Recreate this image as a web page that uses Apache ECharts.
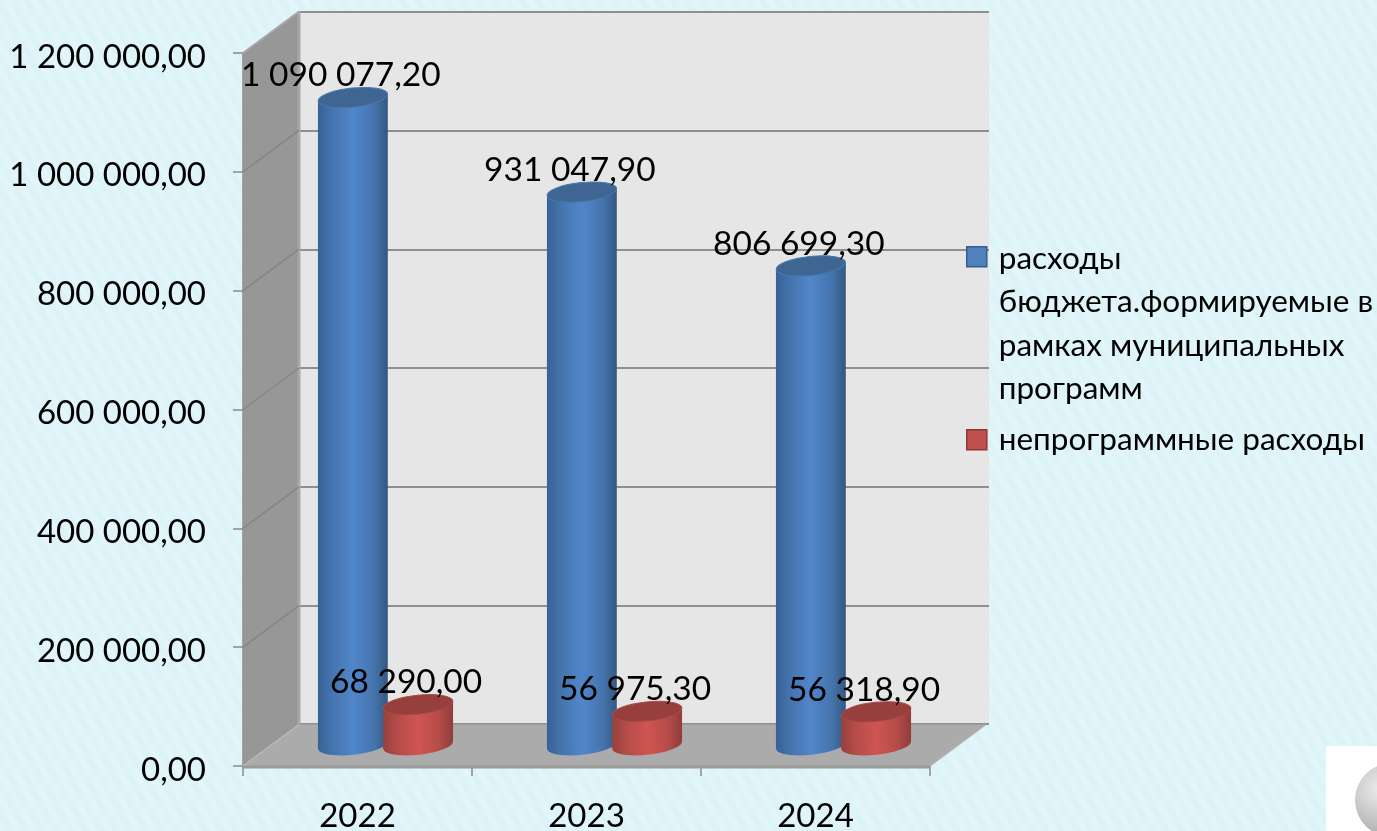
<!DOCTYPE html>
<html><head><meta charset="utf-8">
<style>
html,body{margin:0;padding:0;width:1377px;height:831px;overflow:hidden;background-color:#dff4f9;
background-image:repeating-linear-gradient(60deg,#e2f6fa 0,#e2f6fa 6.5px,#dcf3f8 6.5px,#dcf3f8 13px);}
#c{width:1377px;height:831px;}
</style>
<script src="https://cdn.jsdelivr.net/npm/echarts@6/dist/echarts.min.js"></script>
</head><body><div id="c"></div>
<script>
var categories=['2022','2023','2024'];
var programName='расходы\nбюджета.формируемые в\nрамках муниципальных\nпрограмм';
var otherName='непрограммные расходы';
var programValues=[1090077.20,931047.90,806699.30];
var otherValues=[68290.00,56975.30,56318.90];
var yTicks=[0,200000,400000,600000,800000,1000000,1200000];

var FONT='Lato, "Open Sans", sans-serif';
var DX=56,DY=-41.5;
function fmt(v){
  var s=v.toFixed(2).split('.');
  return s[0].replace(/\B(?=(\d{3})+$)/g,' ')+','+s[1];
}
function shade(stops){
  return {type:'linear',x:0,y:0,x2:1,y2:0,colorStops:stops};
}
function cylinder(side,top,edge,offsetRatio,barRatio){
  return function(params,api){
    var p=api.coord([api.value(0),api.value(1)]);
    var base=api.coord([api.value(0),0]);
    var band=api.size([1,0])[0];
    var cx=p[0]+DX/2+band*offsetRatio, w=band*barRatio;
    var ty=p[1]+DY/2, by=base[1]+DY/2;
    var rot=6*Math.PI/180, ry=9.5, tilt=Math.sin(rot)*w/2;
    return {type:'group',children:[
      {type:'ellipse',shape:{cx:0,cy:0,rx:w/2,ry:ry},x:cx,y:by,rotation:rot,style:{fill:shade(side)}},
      {type:'polygon',shape:{points:[[cx-w/2,ty+tilt],[cx+w/2,ty-tilt],[cx+w/2,by-tilt],[cx-w/2,by+tilt]]},style:{fill:shade(side)}},
      {type:'ellipse',shape:{cx:0,cy:0,rx:w/2,ry:ry},x:cx,y:ty,rotation:rot,style:{fill:top,stroke:edge,lineWidth:1}},
      {type:'text',x:cx-12,y:ty-22,z2:50,style:{text:fmt(api.value(1)),fill:'#000',font:'33.5px '+FONT,align:'center',verticalAlign:'middle'}}
    ]};
  };
}
var blueSide=[{offset:0,color:'#386196'},{offset:0.2,color:'#4574ad'},{offset:0.5,color:'#5186cb'},{offset:0.8,color:'#4574ad'},{offset:1,color:'#335880'}];
var redSide=[{offset:0,color:'#96403d'},{offset:0.2,color:'#b54c49'},{offset:0.5,color:'#cf5551'},{offset:0.8,color:'#b54c49'},{offset:1,color:'#8f3d3b'}];

function walls(params,api){
  var a=api.coord([0,0]), t=api.coord([0,1200000]), band=api.size([1,0])[0], w=band*categories.length;
  var x=a[0]-band/2, y0=a[1], y1=t[1];
  var kids=[
    {type:'polygon',shape:{points:[[x,y1],[x+DX,y1+DY],[x+DX,y0+DY],[x,y0]]},style:{fill:'#979797'}},
    {type:'polygon',shape:{points:[[x,y0],[x+DX,y0+DY],[x+w+DX,y0+DY],[x+w,y0]]},style:{fill:'#ababab'}},
    {type:'line',shape:{x1:x+DX,y1:y1+DY,x2:x+DX,y2:y0+DY},style:{stroke:'#a8a8a8',lineWidth:3}},
    {type:'line',shape:{x1:x,y1:y1,x2:x+DX,y2:y1+DY},style:{stroke:'#a8a8a8',lineWidth:2}},
    {type:'line',shape:{x1:x,y1:y0+1,x2:x+w,y2:y0+1},style:{stroke:'#9a9a9a',lineWidth:3}},
    {type:'line',shape:{x1:x+w,y1:y0,x2:x+w+DX,y2:y0+DY},style:{stroke:'#b5b5b5',lineWidth:1.5}},
    {type:'line',shape:{x1:x,y1:y0,x2:x+DX,y2:y0+DY},style:{stroke:'#b8b8b8',lineWidth:1.5}}
  ];
  yTicks.slice(1,-1).forEach(function(v){
    var y=api.coord([0,v])[1];
    kids.push({type:'line',shape:{x1:x,y1:y,x2:x+DX,y2:y+DY},style:{stroke:'#858585',lineWidth:1.5}});
  });
  return {type:'group',children:kids};
}

var chart=echarts.init(document.getElementById('c'),null,{renderer:'canvas'});
chart.setOption({
  animation:false,
  backgroundColor:'transparent',
  textStyle:{fontFamily:FONT},
  grid:[
    {left:299,right:388,top:12,bottom:107,show:true,backgroundColor:'#e6e6e6',borderWidth:0,outerBoundsMode:'none'},
    {left:243,right:447,top:53,bottom:65,outerBoundsMode:'none'}
  ],
  xAxis:[
    {gridIndex:0,type:'category',data:categories,show:false},
    {gridIndex:1,type:'category',data:categories,
      axisLine:{lineStyle:{color:'#8a8a8a',width:1.5}},
      axisTick:{show:true,alignWithLabel:false,length:10,lineStyle:{color:'#8a8a8a',width:1.5}},
      axisLabel:{color:'#000',fontSize:33,fontFamily:FONT,margin:34}}
  ],
  yAxis:[
    {gridIndex:0,type:'value',min:0,max:1200000,interval:200000,
      axisLine:{show:false},axisTick:{show:false},axisLabel:{show:false},
      splitLine:{show:true,lineStyle:{color:'#8f8f8f',width:2}}},
    {gridIndex:1,type:'value',min:0,max:1200000,interval:200000,
      axisLine:{show:true,lineStyle:{color:'#8a8a8a',width:1.5}},
      axisTick:{show:true,length:10,lineStyle:{color:'#8a8a8a',width:1.5}},
      splitLine:{show:false},
      axisLabel:{color:'#000',fontSize:33,fontFamily:FONT,margin:37,verticalAlign:'top',lineHeight:8,formatter:fmt}}
  ],
  legend:[
    {orient:'vertical',left:966,top:236,padding:0,data:[programName],itemWidth:20,itemHeight:174,itemGap:0,
     icon:'path://M0 0L0 0M0 10H20V30H0ZM0 174L0 174',
     itemStyle:{borderWidth:1.5},selectedMode:false,
     textStyle:{color:'#000',fontSize:31.5,lineHeight:43.5,fontFamily:FONT,padding:[0,0,0,7]}},
    {orient:'vertical',left:966,top:418,padding:0,data:[otherName],itemWidth:20,itemHeight:20,
     icon:'rect',itemStyle:{borderWidth:1.5},selectedMode:false,
     textStyle:{color:'#000',fontSize:31.5,lineHeight:43.5,fontFamily:FONT,padding:[0,0,0,7]}}
  ],
  graphic:[
    {type:'rect',silent:true,shape:{x:1326,y:746,width:51,height:85},style:{fill:'#fff'}},
    {type:'circle',silent:true,shape:{cx:1392,cy:800,r:37},style:{fill:{type:'radial',x:0.35,y:0.35,r:0.7,colorStops:[{offset:0,color:'#eeeeee'},{offset:1,color:'#a9a9a9'}]}}}
  ],
  series:[
    {type:'custom',name:'_walls',xAxisIndex:1,yAxisIndex:1,silent:true,clip:false,z:1,data:[[0,0]],renderItem:walls,legendHoverLink:false},
    {type:'custom',name:programName,xAxisIndex:1,yAxisIndex:1,clip:false,z:2,
      itemStyle:{color:'#4f81bd',borderColor:'#385d8a'},
      encode:{x:0,y:1},
      data:programValues.map(function(v,i){return [i,v];}),
      renderItem:cylinder(blueSide,'#3f6593','#4a78ad',-0.1425,0.305)},
    {type:'custom',name:otherName,xAxisIndex:1,yAxisIndex:1,clip:false,z:3,
      itemStyle:{color:'#c0504d',borderColor:'#8c3836'},
      encode:{x:0,y:1},
      data:otherValues.map(function(v,i){return [i,v];}),
      renderItem:cylinder(redSide,'#963f3c','#a84a47',0.1425,0.305)}
  ]
});
</script></body></html>
